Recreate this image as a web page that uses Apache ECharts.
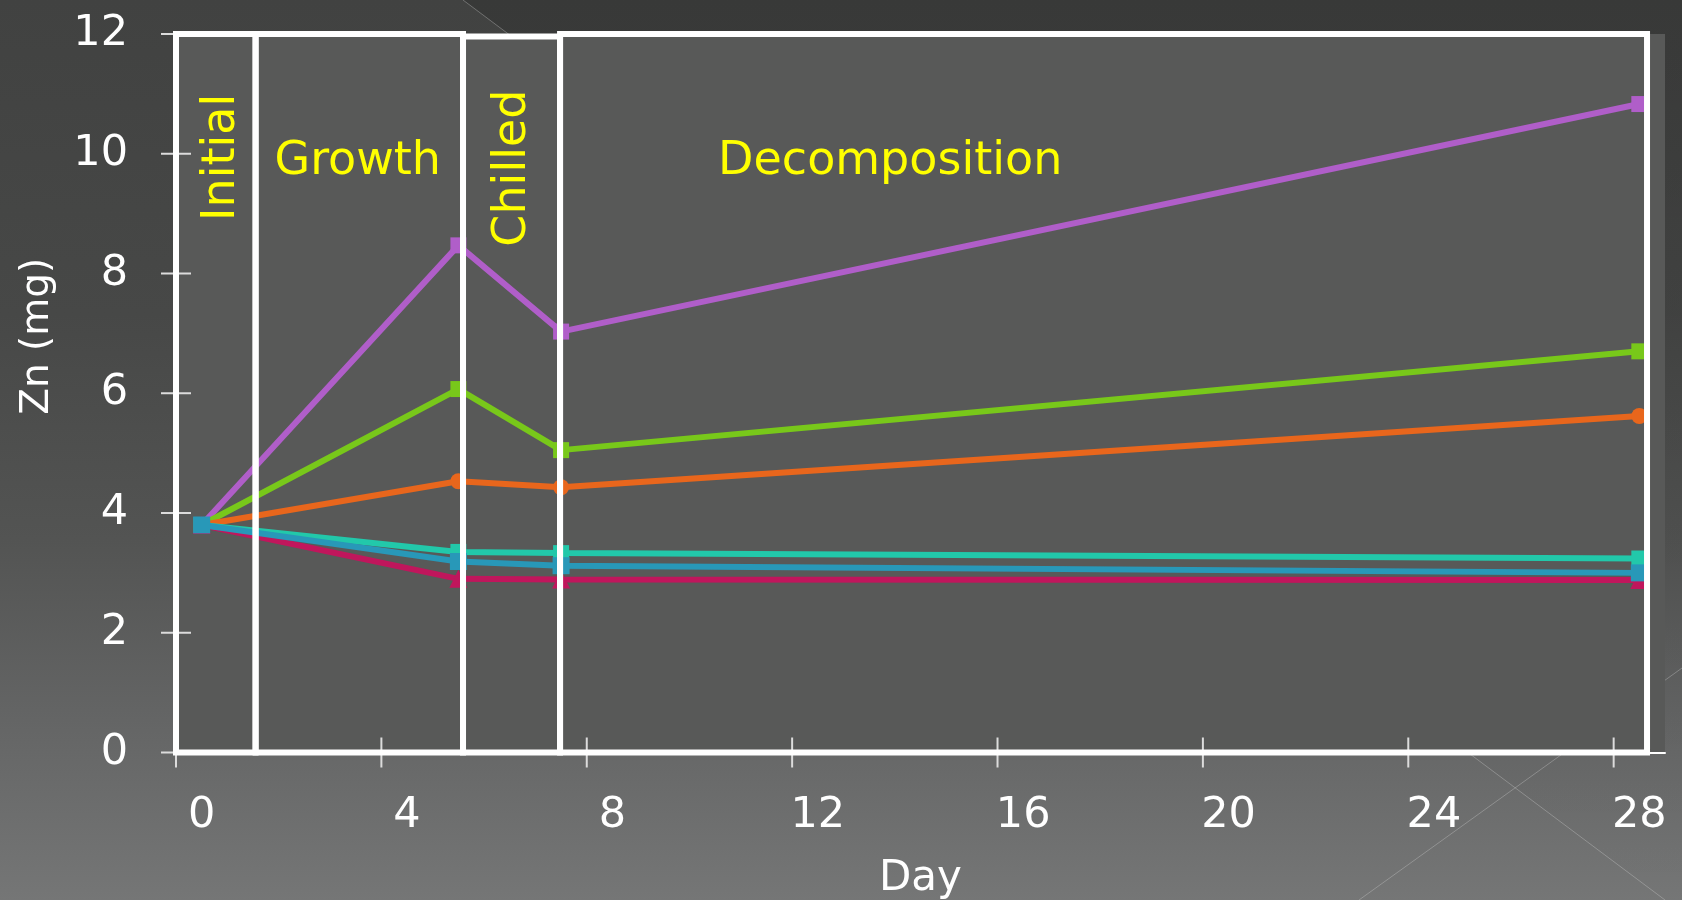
<!DOCTYPE html>
<html>
<head>
<meta charset="utf-8">
<title>Zn (mg) by day</title>
<script src="https://cdn.jsdelivr.net/npm/echarts@6/dist/echarts.min.js"></script>
<style>
  html, body { margin: 0; padding: 0; background: #4a4b4a; }
  #chart { width: 1682px; height: 900px; }
</style>
</head>
<body>
<div id="chart"></div>
<script>
// ---- data -------------------------------------------------------------
const days = [0, 5, 7, 28];

const znPurple  = [3.8, 8.47, 7.03, 10.83];
const znGreen   = [3.8, 6.07, 5.05, 6.70];
const znOrange  = [3.8, 4.53, 4.43, 5.62];
const znCrimson = [3.8, 2.90, 2.89, 2.88];
const znTeal    = [3.8, 3.35, 3.33, 3.24];
const znBlue    = [3.8, 3.19, 3.12, 3.00];

const xTickLabels = [0, 4, 8, 12, 16, 20, 24, 28];
const yTickLabels = [0, 2, 4, 6, 8, 10, 12];

// experiment phases (day boundaries)
const phaseNames  = ['Initial', 'Growth', 'Chilled', 'Decomposition'];
const phaseBounds = [-0.5, 1.05, 5.09, 6.98, 28.15];

// ---- styling ----------------------------------------------------------
const FONT = "'DejaVu Sans', Verdana, sans-serif";
const TICK = '#dcdcdc';
const YELLOW = '#ffff00';
const TICK_HALF = 15;   // ticks cross the axis line, this far on each side
const X_MIN = -0.5, X_MAX = 28.5;

// each day occupies one slot; ticks sit on slot edges, labels in the middle
const xTickEdges = xTickLabels.map(d => d - 0.5);

const chart = echarts.init(document.getElementById('chart'), null, { renderer: 'canvas' });

// slide backdrop: faint shading and two hairlines
const backdrop = [
  {
    id: 'shade', type: 'polygon', z: -90, silent: true,
    shape: { points: [[463, 0], [1682, 0], [1682, 900], [1665, 900]] },
    style: {
      fill: {
        type: 'linear', x: 0, y: 0, x2: 0, y2: 1,
        colorStops: [
          { offset: 0, color: 'rgba(0,0,0,0.14)' },
          { offset: 1, color: 'rgba(0,0,0,0.0)' }
        ]
      }
    }
  },
  {
    id: 'rule1', type: 'line', z: -80, silent: true,
    shape: { x1: 463, y1: 0, x2: 1665, y2: 900 },
    style: { stroke: 'rgba(210,210,210,0.35)', lineWidth: 1 }
  },
  {
    id: 'rule2', type: 'line', z: -80, silent: true,
    shape: { x1: 1359, y1: 900, x2: 1682, y2: 668 },
    style: { stroke: 'rgba(210,210,210,0.35)', lineWidth: 1 }
  }
];

function lineSeries(name, values, color, symbol, size) {
  return {
    type: 'line',
    name: name,
    data: days.map((d, i) => [d, values[i]]),
    symbol: symbol,
    symbolSize: size,
    showSymbol: true,
    lineStyle: { color: color, width: 6 },
    itemStyle: { color: color },
    clip: false,
    silent: true
  };
}

// tick marks that cross the axis lines (half outside, half inside)
function crossTicks(name, points, horizontal) {
  return {
    type: 'custom',
    name: name,
    coordinateSystem: 'cartesian2d',
    silent: true,
    clip: false,
    z: 3,
    data: points,
    renderItem: function (params, api) {
      const p = api.coord([api.value(0), api.value(1)]);
      const shape = horizontal
        ? { x1: p[0] - TICK_HALF, y1: p[1], x2: p[0] + TICK_HALF, y2: p[1] }
        : { x1: p[0], y1: p[1] - TICK_HALF, x2: p[0], y2: p[1] + TICK_HALF };
      return { type: 'line', shape: shape, style: { stroke: TICK, lineWidth: 2 } };
    }
  };
}

const series = [
  crossTicks('xTicks', xTickEdges.map(d => [d, yTickLabels[0]]), false),
  crossTicks('yTicks', yTickLabels.map(v => [X_MIN, v]), true),
  lineSeries('S1', znPurple,  '#b05ec9', 'rect', 16),
  lineSeries('S2', znGreen,   '#78c81a', 'rect', 16),
  lineSeries('S3', znOrange,  '#e8661c', 'circle', 16),
  lineSeries('S4', znCrimson, '#c0165c', 'triangle', 18),
  lineSeries('S5', znTeal,    '#22c8aa', 'rect', 16),
  lineSeries('S6', znBlue,    '#2898b8', 'rect', 17)
];

// white phase boxes drawn above the lines
series[series.length - 1].markArea = {
  silent: true,
  z: 10,
  label: { show: false },
  itemStyle: { color: 'rgba(0,0,0,0)', borderColor: '#ffffff', borderWidth: 6 },
  data: phaseNames.map((n, i) => {
    const chilled = n === 'Chilled';
    return [
      { name: n, xAxis: phaseBounds[i], yAxis: chilled ? 11.96 : 12 },
      { xAxis: phaseBounds[i + 1], yAxis: chilled ? -0.04 : 0 }
    ];
  })
};

const labelStyle = { color: '#ffffff', fontSize: 43, fontFamily: FONT };

const option = {
  animation: false,
  backgroundColor: {
    type: 'linear', x: 0, y: 0, x2: 0, y2: 1,
    colorStops: [
      { offset: 0, color: '#414241' },
      { offset: 0.35, color: '#474847' },
      { offset: 0.6, color: '#535453' },
      { offset: 0.8, color: '#646565' },
      { offset: 1, color: '#757676' }
    ]
  },
  graphic: { elements: backdrop },
  grid: {
    left: 176, right: 17, top: 34, bottom: 147.5,
    outerBoundsMode: 'none', containLabel: false,
    show: true, backgroundColor: '#585958', borderWidth: 0
  },
  xAxis: {
    type: 'value', min: X_MIN, max: X_MAX, position: 'bottom',
    axisLine: { show: true, onZero: false, lineStyle: { color: '#ffffff', width: 2 } },
    axisTick: { show: false },
    axisLabel: Object.assign({ show: true, customValues: xTickLabels, margin: 42, formatter: v => String(v) }, labelStyle),
    splitLine: { show: false },
    name: 'Day', nameLocation: 'middle', nameGap: 106,
    nameTextStyle: { color: '#ffffff', fontSize: 42, fontFamily: FONT }
  },
  yAxis: {
    type: 'value', min: yTickLabels[0], max: yTickLabels[yTickLabels.length - 1], interval: 2, position: 'left',
    axisLine: { show: true, onZero: false, lineStyle: { color: '#ffffff', width: 2 } },
    axisTick: { show: false },
    axisLabel: Object.assign({ show: true, margin: 48, padding: [0, 0, 12, 0], formatter: v => String(v) }, labelStyle),
    splitLine: { show: false },
    name: 'Zn (mg)', nameLocation: 'middle', nameGap: 119,
    nameTextStyle: { color: '#ffffff', fontSize: 39, fontFamily: FONT, padding: [0, 0, 0, 114] }
  },
  series: series
};

chart.setOption(option);

// phase captions, anchored in axis units
const captions = [
  { text: phaseNames[0], day: 0.40, val: 9.94, rotate: true },
  { text: phaseNames[1], day: 3.04, val: 9.86, rotate: false },
  { text: phaseNames[2], day: 6.06, val: 9.76, rotate: true },
  { text: phaseNames[3], day: 13.41, val: 9.86, rotate: false }
];

chart.setOption({
  graphic: {
    elements: captions.map((c, i) => {
      const p = chart.convertToPixel({ seriesIndex: 2 }, [c.day, c.val]);
      return {
        id: 'caption' + i, type: 'text', z: 50, silent: true,
        x: p[0], y: p[1], rotation: c.rotate ? Math.PI / 2 : 0,
        style: {
          text: c.text, fill: YELLOW, font: '46px ' + FONT,
          align: 'center', verticalAlign: 'middle'
        }
      };
    })
  }
});
</script>
</body>
</html>
